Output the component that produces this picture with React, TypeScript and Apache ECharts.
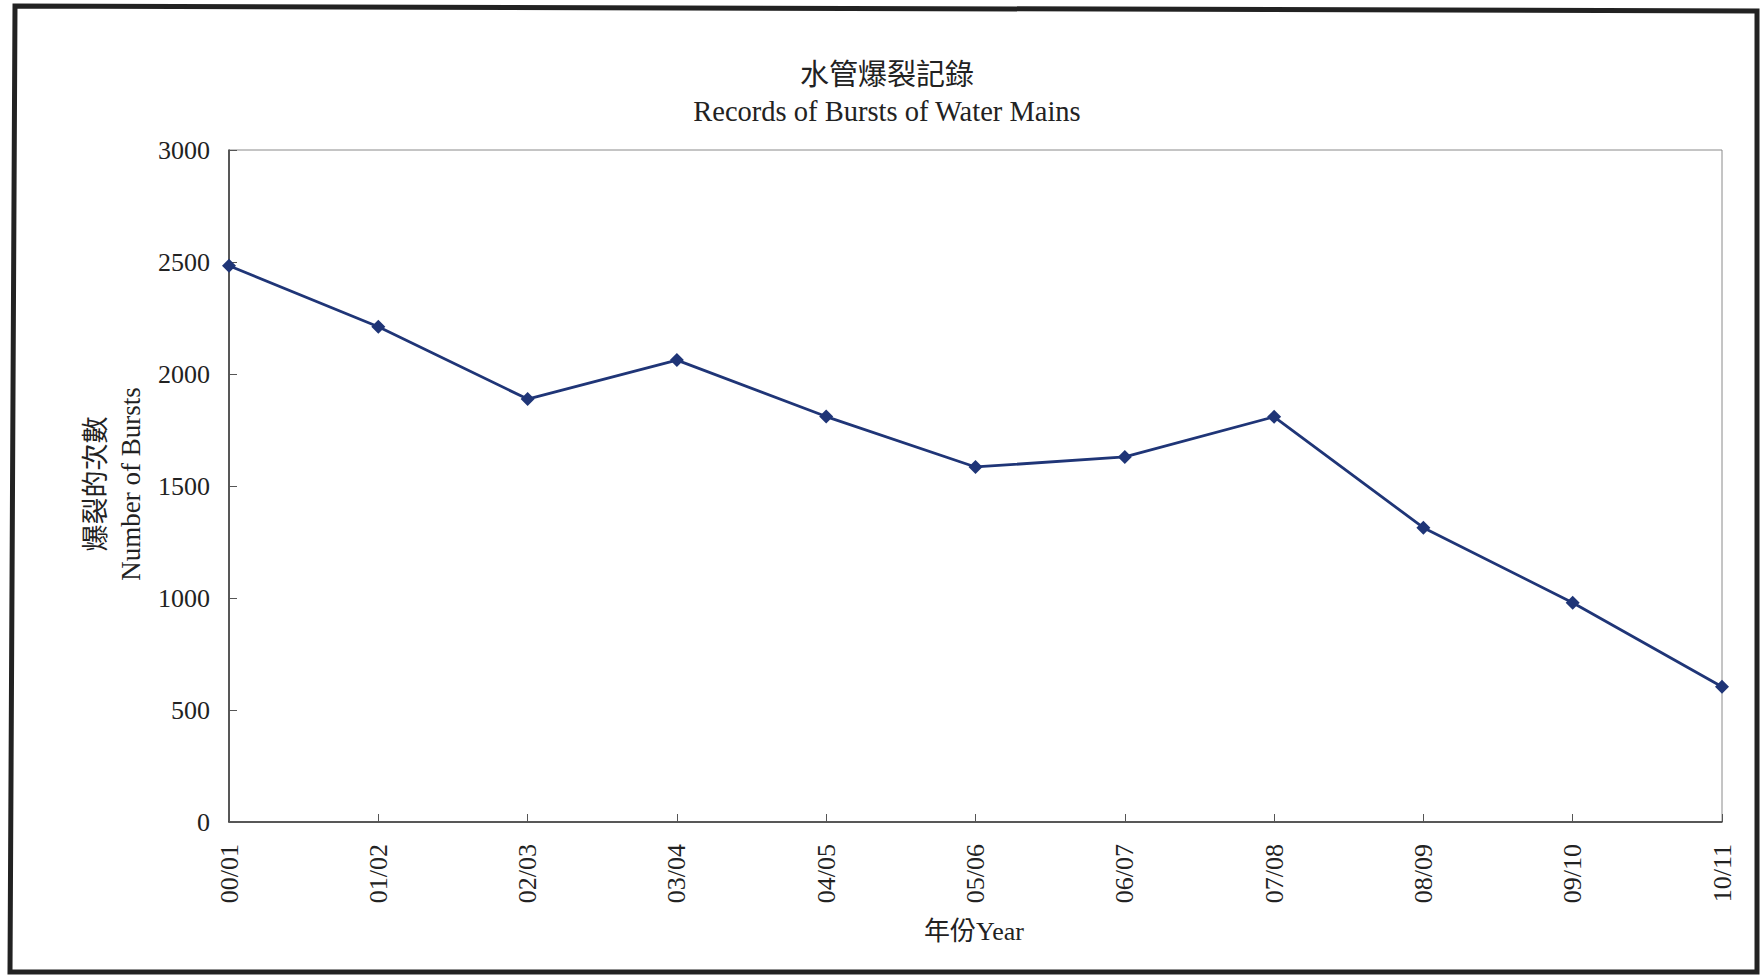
import React, { useEffect, useRef } from "react";
import * as echarts from "echarts";

const categories = ["00/01", "01/02", "02/03", "03/04", "04/05", "05/06", "06/07", "07/08", "08/09", "09/10", "10/11"];
const bursts = [2483, 2211, 1888, 2062, 1810, 1585, 1630, 1809, 1314, 979, 604];
const titleZh = "水管爆裂記錄";
const titleEn = "Records of Bursts of Water Mains";
const yNameZh = "爆裂的次數";
const yNameEn = "Number of Bursts";
const xName = "年份Year";

const FONT = "'Liberation Serif', 'Times New Roman', 'Noto Sans CJK TC', serif";

export default function App() {
  const ref = useRef<HTMLDivElement>(null);
  useEffect(() => {
    if (!ref.current) return;
    const chart = echarts.init(ref.current, null, { renderer: "svg" });
    chart.setOption({
      animation: false,
      backgroundColor: "#ffffff",
      grid: {
        left: 229,
        top: 150,
        width: 1493,
        height: 672,
        show: true,
        borderColor: "#8a8a8a",
        borderWidth: 1,
        backgroundColor: "transparent",
      },
      xAxis: {
        type: "category",
        data: categories,
        boundaryGap: false,
        axisLine: { show: true, lineStyle: { color: "#333", width: 1.5 } },
        axisTick: { show: true, inside: true, length: 8, lineStyle: { color: "#555" } },
        axisLabel: { rotate: 90, margin: 22, fontSize: 26, fontFamily: FONT, color: "#222" },
        splitLine: { show: false },
      },
      yAxis: {
        type: "value",
        min: 0,
        max: 3000,
        interval: 500,
        axisLine: { show: true, lineStyle: { color: "#333", width: 1.5 } },
        axisTick: { show: true, inside: true, length: 8, lineStyle: { color: "#555" } },
        axisLabel: {
          margin: 19,
          fontSize: 26,
          fontFamily: FONT,
          color: "#222",
          formatter: (v: number) => String(v),
        },
        splitLine: { show: false },
      },
      series: [
        {
          type: "line",
          data: bursts,
          symbol: "diamond",
          symbolSize: 14,
          itemStyle: { color: "#1f3577" },
          lineStyle: { color: "#1f3577", width: 2.8 },
        },
      ],
      graphic: [
        {
          type: "polygon",
          shape: { points: [[15, 6], [1757, 11], [1757, 972], [10, 972]] },
          style: { fill: "none", stroke: "#222", lineWidth: 5 },
          silent: true,
        },
        {
          type: "text",
          x: 887,
          y: 75,
          style: { text: titleZh, font: `29px ${FONT}`, fill: "#222", align: "center", verticalAlign: "middle" },
        },
        {
          type: "text",
          x: 887,
          y: 111,
          style: { text: titleEn, font: `28.5px ${FONT}`, fill: "#222", align: "center", verticalAlign: "middle" },
        },
        {
          type: "text",
          x: 96,
          y: 484,
          rotation: Math.PI / 2,
          style: { text: yNameZh, font: `27px ${FONT}`, fill: "#222", align: "center", verticalAlign: "middle" },
        },
        {
          type: "text",
          x: 131,
          y: 484,
          rotation: Math.PI / 2,
          style: { text: yNameEn, font: `27px ${FONT}`, fill: "#222", align: "center", verticalAlign: "middle" },
        },
        {
          type: "text",
          x: 974,
          y: 931,
          style: { text: xName, font: `26px ${FONT}`, fill: "#222", align: "center", verticalAlign: "middle" },
        },
      ],
    });
    return () => chart.dispose();
  }, []);
  return (
    <div
      ref={ref}
      style={{ position: "absolute", left: 0, top: 0, width: 1760, height: 975 }}
    />
  );
}
